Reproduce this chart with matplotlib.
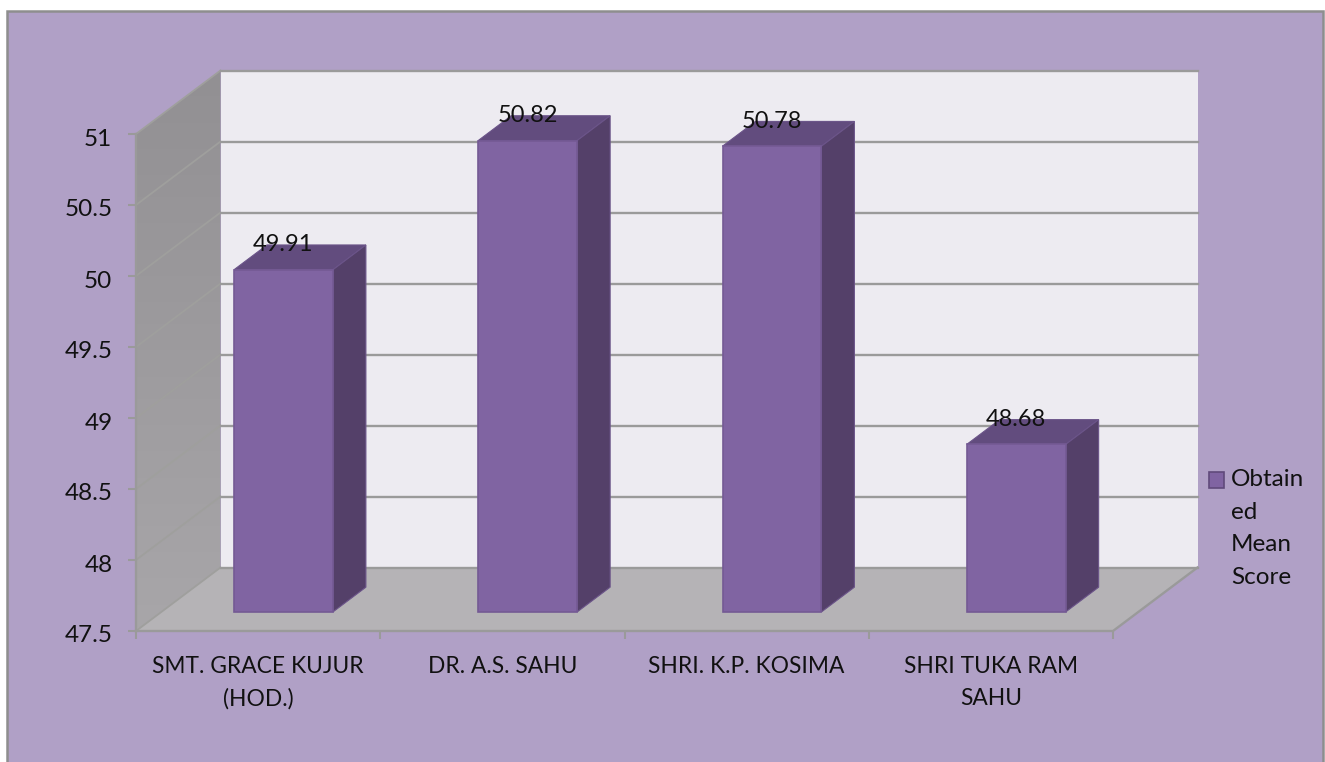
import matplotlib
matplotlib.use("Agg")
import matplotlib.pyplot as plt
from matplotlib.patches import Polygon, Rectangle
from matplotlib.transforms import ScaledTranslation
import numpy as np

# -------- Data --------
names = ["SMT. GRACE KUJUR\n(HOD.)", "DR. A.S. SAHU", "SHRI. K.P. KOSIMA", "SHRI TUKA RAM\nSAHU"]
scores = [49.91, 50.82, 50.78, 48.68]
y_ticks = [47.5, 48, 48.5, 49, 49.5, 50, 50.5, 51]
y_labels = ["47.5", "48", "48.5", "49", "49.5", "50", "50.5", "51"]
legend_text = "Obtain\ned\nMean\nScore"

# -------- Control parameters --------
W, H = 1325, 762
ax_box = (136, 134, 1113, 631)  # left, top, right, bottom in px
depth_px = (84.5, 63.5)
bar_depth = (0.3, 0.69)
bar_width = 0.405
font = "Lato"
text_col = "#111111"
grid_col = "#9A9A9A"
wall_line_col = "#9F9F9D"

plt.rcParams["font.family"] = [font, "DejaVu Sans"]

fig = plt.figure(figsize=(W / 100, H / 100), dpi=100, facecolor="white")
fig.add_artist(Rectangle((7 / W, -0.05), (1323 - 7) / W, 1.05 - 11 / H, transform=fig.transFigure,
                         fc="#B0A0C6", ec="#8E8E8E", lw=1.8, zorder=-1))

left, top, right, bottom = ax_box
ax = fig.add_axes([left / W, 1 - bottom / H, (right - left) / W, (bottom - top) / H])
ax.set_xlim(0, len(scores))
ax.set_ylim(y_ticks[0], y_ticks[-1])
ax.patch.set_visible(False)
for s in ax.spines.values():
    s.set_visible(False)

# depth expressed in data units
dx = depth_px[0] / ((right - left) / len(scores))
dy = depth_px[1] / ((bottom - top) / (y_ticks[-1] - y_ticks[0]))


def proj(x, y, d):
    return (x + d * dx, y + d * dy)


def add_poly(points, **kw):
    kw.setdefault("clip_on", False)
    p = Polygon(points, closed=True, **kw)
    ax.add_patch(p)
    return p


y0, y1 = y_ticks[0], y_ticks[-1]
n = len(scores)

# back wall
add_poly([proj(0, y0, 1), proj(n, y0, 1), proj(n, y1, 1), proj(0, y1, 1)], fc="#EDEBF1", ec="none", zorder=1)

# left wall with a soft gradient
wall = add_poly([proj(0, y0, 0), proj(0, y0, 1), proj(0, y1, 1), proj(0, y1, 0)], fc="none", ec="none", zorder=1)
grad = np.linspace(0, 1, 128).reshape(-1, 1)
im = ax.imshow(grad, extent=(0, dx, y0, y1 + dy), aspect="auto", origin="upper", zorder=1,
               cmap=matplotlib.colors.LinearSegmentedColormap.from_list("w", ["#929093", "#A8A6A9"]))
im.set_clip_path(wall)
im.set_clip_box(fig.bbox)
ax.set_xlim(0, n)
ax.set_ylim(y0, y1)

# floor
add_poly([proj(0, y0, 0), proj(n, y0, 0), proj(n, y0, 1), proj(0, y0, 1)], fc="#B5B3B6", ec="none", zorder=1)

# gridlines on the walls
for t in y_ticks:
    ax.plot(*zip(proj(0, t, 0), proj(0, t, 1)), color=wall_line_col, lw=1.3, zorder=2, clip_on=False)
    ax.plot(*zip(proj(0, t, 1), proj(n, t, 1)), color=grid_col, lw=1.7, zorder=2, clip_on=False)
ax.plot(*zip(proj(0, y0, 0), proj(0, y1, 0)), color=grid_col, lw=1.7, zorder=2, clip_on=False)
ax.plot(*zip(proj(0, y0, 0), proj(n, y0, 0), proj(n, y0, 1)), color=grid_col, lw=1.7, zorder=2, clip_on=False)

# bars
d0, d1 = bar_depth
for i, v in enumerate(scores):
    xa = i + 0.5 - bar_width / 2
    xb = i + 0.5 + bar_width / 2
    add_poly([proj(xa, v, d0), proj(xa, v, d1), proj(xb, v, d1), proj(xb, v, d0)],
             fc="#624C7E", ec="#6B5489", lw=0.8, zorder=3)
    add_poly([proj(xb, y0, d0), proj(xb, y0, d1), proj(xb, v, d1), proj(xb, v, d0)],
             fc="#544069", ec="#6B5489", lw=0.8, zorder=3)
    add_poly([proj(xa, y0, d0), proj(xb, y0, d0), proj(xb, v, d0), proj(xa, v, d0)],
             fc="#8064A2", ec="#745A94", lw=1.2, zorder=4)
    ax.annotate(f"{v:.2f}", xy=proj(i + 0.5, v, d0), xytext=(0, 18), textcoords="offset points",
                ha="center", va="center", fontsize=17, color=text_col, zorder=5, annotation_clip=False)

# axes ticks
ax.set_yticks(y_ticks, y_labels)
ax.tick_params(axis="y", length=6, width=1.5, color=grid_col, labelcolor=text_col, labelsize=17.5, pad=11)
for lab in ax.get_yticklabels():
    lab.set_transform(lab.get_transform() + ScaledTranslation(0, -3 / 100, fig.dpi_scale_trans))
ax.set_xticks(np.arange(n + 1), [""] * (n + 1))
ax.tick_params(axis="x", which="major", length=6, width=1.5, color=grid_col)
ax.set_xticks(np.arange(n) + 0.5, names, minor=True)
ax.tick_params(axis="x", which="minor", length=0, labelcolor=text_col, labelsize=16.4, pad=18)
for lab in ax.get_xticklabels(minor=True):
    lab.set_linespacing(1.62)

# legend
fig.add_artist(Rectangle((1209 / W, 1 - 488 / H), 15 / W, 16 / H, transform=fig.transFigure,
                         fc="#8064A2", ec="#604A7B", lw=1.2))
fig.text(1231 / W, 1 - 469 / H, legend_text, ha="left", va="top", fontsize=17.5, color=text_col, linespacing=1.69)

fig.savefig("out.png", dpi=100)
